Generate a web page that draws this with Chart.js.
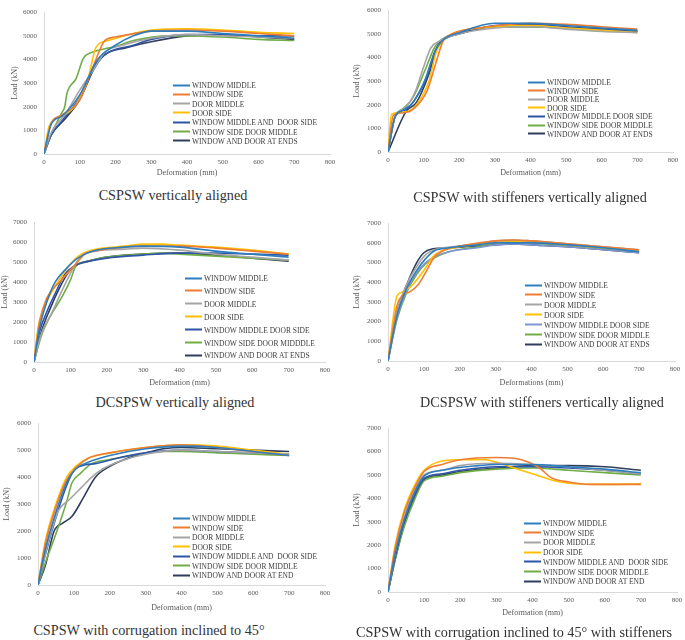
<!DOCTYPE html>
<html>
<head>
<meta charset="utf-8">
<script src="https://cdn.jsdelivr.net/npm/chart.js@4.4.1/dist/chart.umd.min.js"></script>
<style>
  body { margin: 0; background: #fff; width: 685px; height: 640px; position: relative; overflow: hidden;
         font-family: "Liberation Serif", "Times New Roman", serif; }
  canvas { position: absolute; }
  .caption { position: absolute; font-size: 14.2px; color: #333; white-space: nowrap; transform: translate(-50%, -50%); }
  .legend { position: absolute; font-size: 7.5px; color: #404040; }
  .legend .row { position: absolute; left: 0; white-space: pre; display: flex; align-items: center; transform: translateY(-50%); }
  .legend .swatch { display: inline-block; width: 17px; height: 2px; margin-right: 2px; }
</style>
</head>
<body>
<script>
// legend order: window middle, window side, door middle, door side,
// window middle + door side, window side + door middle, window and door at ends
const seriesColors = ['#2E7EBF', '#ED7D31', '#A5A5A5', '#FFC000', '#2F55A8', '#70AD47', '#2F3E5C'];

const namesAligned = ['WINDOW MIDDLE', 'WINDOW SIDE', 'DOOR MIDDLE', 'DOOR SIDE',
  'WINDOW MIDDLE AND  DOOR SIDE', 'WINDOW SIDE DOOR MIDDLE', 'WINDOW AND DOOR AT ENDS'];
const namesStiff = ['WINDOW MIDDLE', 'WINDOW SIDE', 'DOOR MIDDLE', 'DOOR SIDE',
  'WINDOW MIDDLE DOOR SIDE', 'WINDOW SIDE DOOR MIDDLE', 'WINDOW AND DOOR AT ENDS'];
const namesDouble = ['WINDOW MIDDLE', 'WINDOW SIDE', 'DOOR MIDDLE', 'DOOR SIDE',
  'WINDOW MIDDLE DOOR SIDE', 'WINDOW SIDE DOOR MIDDDLE', 'WINDOW AND DOOR AT ENDS'];
const namesInclined = ['WINDOW MIDDLE', 'WINDOW SIDE', 'DOOR MIDDLE', 'DOOR SIDE',
  'WINDOW MIDDLE AND  DOOR SIDE', 'WINDOW SIDE DOOR MIDDLE', 'WINDOW AND DOOR AT END'];

const xTicksMax = 800;
const loadStep = 1000;

// [deformation mm, load kN]
const cspswVertical = [
  [[0,0],[20,1250],[50,1600],[100,2500],[150,4000],[200,4600],[250,5000],[300,5200],[400,5200],[500,5100],[600,5000],[700,4900]],
  [[0,0],[20,1300],[50,1650],[100,2300],[140,3800],[170,4800],[200,4950],[300,5200],[400,5250],[500,5200],[600,5100],[700,5000]],
  [[0,0],[20,900],[60,1700],[100,2700],[140,3600],[170,4300],[220,4600],[300,4900],[400,5050],[500,5000],[600,4950],[700,4900]],
  [[0,0],[15,1200],[50,1600],[90,2100],[125,3300],[145,4500],[180,4800],[250,5100],[300,5250],[400,5300],[500,5250],[600,5150],[700,5100]],
  [[0,0],[20,800],[50,1400],[100,2400],[140,3700],[180,4300],[250,4600],[300,4850],[400,5050],[500,5050],[600,5000],[700,5000]],
  [[0,0],[25,1000],[50,1750],[58,2000],[64,2550],[90,3200],[110,4050],[130,4280],[170,4450],[200,4550],[250,4800],[350,5000],[400,5000],[500,4950],[600,4850],[700,4800]],
  [[0,0],[20,800],[60,1500],[100,2300],[140,3600],[170,4200],[230,4500],[300,4750],[400,5000],[500,5050],[600,4950],[700,4850]]
];

const cspswStiffVertical = [
  [[0,0],[20,1500],[40,1750],[70,2100],[105,3100],[130,4200],[155,4750],[200,5050],[300,5450],[400,5450],[500,5350],[600,5250],[700,5150]],
  [[0,0],[15,1550],[40,1650],[70,1800],[110,2600],[135,3800],[155,4700],[180,5000],[280,5300],[400,5450],[500,5400],[600,5300],[700,5200]],
  [[0,0],[20,1500],[50,1900],[75,2500],[100,3600],[120,4400],[145,4700],[200,5000],[300,5250],[400,5300],[500,5200],[600,5100],[700,5050]],
  [[0,0],[10,1600],[50,1700],[80,2000],[115,3000],[135,4200],[160,4800],[200,5100],[300,5300],[400,5350],[500,5250],[600,5150],[700,5050]],
  [[0,0],[20,1500],[50,1800],[75,2200],[110,3200],[133,4300],[155,4750],[200,5000],[300,5350],[400,5400],[500,5300],[600,5200],[700,5100]],
  [[0,0],[20,1500],[40,1800],[70,2300],[105,3500],[130,4400],[150,4750],[200,5050],[300,5300],[400,5300],[500,5250],[600,5150],[700,5100]],
  [[0,0],[50,1700],[80,2100],[115,3300],[140,4500],[160,4800],[200,5000],[300,5300],[400,5300],[500,5250],[600,5200],[700,5100]]
];

const dcspswVertical = [
  [[0,0],[15,1700],[35,3000],[58,4000],[90,4700],[120,5200],[160,5550],[250,5750],[300,5800],[400,5750],[500,5550],[600,5400],[700,5250]],
  [[0,0],[15,2000],[35,3200],[70,4000],[110,4800],[140,5400],[180,5600],[250,5750],[300,5800],[400,5800],[500,5700],[600,5550],[700,5400]],
  [[0,0],[20,1400],[50,2500],[75,3500],[105,4600],[130,5300],[170,5550],[250,5650],[300,5700],[400,5600],[500,5400],[600,5250],[700,5100]],
  [[0,0],[12,1800],[35,3000],[65,4000],[100,4900],[130,5400],[170,5650],[250,5800],[300,5900],[350,5900],[400,5850],[500,5750],[600,5600],[700,5400]],
  [[0,0],[15,1500],[35,2500],[60,3500],[85,4400],[110,4800],[140,5000],[200,5200],[300,5350],[400,5450],[500,5450],[600,5400],[700,5350]],
  [[0,0],[20,1300],[45,2300],[75,3200],[100,4100],[115,4800],[140,5000],[200,5250],[300,5400],[350,5450],[400,5400],[500,5300],[600,5200],[700,5100]],
  [[0,0],[20,1500],[45,2700],[70,3700],[95,4500],[120,4900],[150,5050],[200,5250],[300,5400],[400,5450],[500,5350],[600,5200],[700,5050]]
];

const dcspswStiffVertical = [
  [[0,0],[25,2300],[50,3600],[80,4600],[105,5200],[130,5600],[170,5750],[250,5900],[300,6000],[400,6000],[500,5900],[600,5750],[700,5550]],
  [[0,0],[25,2800],[45,3400],[60,3500],[85,3900],[105,4500],[130,5300],[160,5650],[220,5900],[300,6100],[350,6150],[400,6100],[500,5950],[600,5800],[700,5650]],
  [[0,0],[25,2500],[50,3800],[80,4800],[105,5400],[130,5650],[180,5800],[250,5950],[300,6100],[350,6150],[400,6100],[500,5950],[600,5800],[700,5650]],
  [[0,0],[25,3300],[40,3500],[70,3900],[100,4600],[125,5300],[150,5600],[200,5800],[300,6000],[400,6050],[500,5900],[600,5750],[700,5600]],
  [[0,0],[25,2200],[50,3500],[80,4500],[105,5000],[130,5300],[170,5550],[250,5750],[300,5900],[350,5950],[400,5900],[500,5800],[600,5650],[700,5500]],
  [[0,0],[25,2100],[50,3400],[80,4400],[105,4950],[130,5250],[170,5550],[250,5800],[300,6000],[350,6050],[400,6000],[500,5850],[600,5700],[700,5550]],
  [[0,0],[25,2500],[55,4000],[80,5000],[100,5500],[125,5700],[170,5750],[250,5850],[300,5900],[350,5950],[400,5900],[500,5800],[600,5650],[700,5500]]
];

const cspswInclined = [
  [[0,0],[20,1300],[50,2700],[80,3800],[105,4300],[140,4550],[200,4800],[300,5050],[400,5150],[500,5100],[600,4950],[700,4800]],
  [[0,0],[20,1500],[50,2900],[80,3900],[110,4400],[140,4700],[200,4900],[300,5100],[400,5200],[500,5100],[600,4950],[700,4800]],
  [[0,0],[25,1400],[55,2700],[90,3200],[120,3600],[150,4000],[180,4300],[230,4600],[300,4850],[400,5000],[500,4950],[600,4900],[700,4850]],
  [[0,0],[20,1600],[50,3000],[80,4000],[105,4400],[140,4700],[200,4900],[300,5100],[400,5200],[500,5150],[600,5000],[700,4850]],
  [[0,0],[20,1100],[50,2500],[80,3700],[100,4250],[130,4450],[160,4500],[220,4700],[300,4900],[400,5000],[500,4950],[600,4900],[700,4850]],
  [[0,0],[20,800],[50,1900],[80,3100],[95,3800],[115,4100],[150,4500],[200,4650],[280,4850],[350,4950],[400,4950],[500,4900],[600,4850],[700,4800]],
  [[0,0],[20,700],[45,2000],[70,2300],[95,2550],[125,3200],[160,4000],[200,4400],[250,4700],[300,4900],[350,5050],[400,5100],[500,5050],[600,5000],[700,4950]]
];

const cspswInclinedStiff = [
  [[0,0],[20,1650],[45,3100],[75,4300],[100,4950],[150,5200],[250,5400],[300,5450],[400,5450],[500,5350],[600,5250],[700,5100]],
  [[0,0],[20,1900],[45,3400],[75,4500],[100,5150],[150,5450],[200,5650],[300,5750],[370,5650],[420,5300],[450,4900],[500,4700],[560,4600],[600,4600],[700,4600]],
  [[0,0],[20,1700],[45,3200],[75,4400],[100,5000],[150,5200],[200,5400],[300,5500],[400,5450],[500,5350],[600,5200],[700,5050]],
  [[0,0],[20,2000],[45,3500],[75,4600],[100,5200],[150,5600],[200,5650],[270,5650],[300,5550],[350,5300],[400,5050],[450,4800],[500,4650],[600,4600],[700,4620]],
  [[0,0],[20,1500],[45,3000],[75,4200],[100,4850],[150,5050],[200,5200],[300,5350],[400,5350],[500,5300],[600,5200],[700,5050]],
  [[0,0],[20,1400],[45,2800],[75,4000],[100,4750],[150,4950],[200,5100],[300,5250],[400,5300],[500,5200],[600,5100],[700,5000]],
  [[0,0],[20,1400],[45,2900],[75,4100],[100,4800],[150,5000],[200,5150],[300,5300],[400,5400],[500,5400],[600,5350],[700,5200]]
];

// page layout of the six panels (plot area edges in px)
const panels = [
  { data: cspswVertical, names: namesAligned, yMax: 6000, x0: 0, L: 44, T: 7, R: 330, B: 154, xTitleY: 173, yTitlePad: 10,
    xTitle: 'Deformation (mm)', caption: 'CSPSW vertically aligned', capX: 173, capY: 195,
    legX: 173, legY: 85, legGap: 9.3 },
  { data: cspswStiffVertical, names: namesStiff, yMax: 6000, x0: 340, L: 388, T: 5, R: 673, B: 152, xTitleY: 173, yTitlePad: 12,
    xTitle: 'Deformation (mm)', caption: 'CSPSW with stiffeners vertically aligned', capX: 530, capY: 197,
    legX: 528, legY: 82, legGap: 8.6 },
  { data: dcspswVertical, names: namesDouble, yMax: 7000, x0: 0, L: 34, T: 217, R: 325, B: 362, xTitleY: 383, yTitlePad: 0,
    xTitle: 'Deformation (mm)', caption: 'DCSPSW vertically aligned', capX: 175, capY: 402,
    legX: 185, legY: 278, legGap: 12.9 },
  { data: dcspswStiffVertical, names: namesStiff, yMax: 7000, x0: 340, L: 388, T: 218, R: 675, B: 361, xTitleY: 383, yTitlePad: 12,
    xTitle: 'Deformations (mm)', caption: 'DCSPSW with stiffeners vertically aligned', capX: 542, capY: 402,
    legX: 525, legY: 285, legGap: 9.9, colorFix: { 4: '#7E95D3' } },
  { data: cspswInclined, names: namesInclined, yMax: 6000, x0: 0, L: 38, T: 418, R: 325, B: 585, xTitleY: 608, yTitlePad: 2,
    xTitle: 'Deformation (mm)', caption: 'CSPSW with corrugation inclined to 45°', capX: 149, capY: 630,
    legX: 173, legY: 518, legGap: 9.55 },
  { data: cspswInclinedStiff, names: namesInclined, yMax: 7000, x0: 340, L: 388, T: 423, R: 677, B: 592, xTitleY: 613, yTitlePad: 12,
    xTitle: 'Deformation (mm)', caption: 'CSPSW with corrugation inclined to 45° with stiffeners', capX: 514, capY: 632,
    legX: 524, legY: 523, legGap: 9.7 }
];

const tickFont = { family: '"Liberation Serif", serif', size: 7 };
const titleFont = { family: '"Liberation Serif", serif', size: 8 };
const textGray = '#595959';

function makePanel(p) {
  const cLeft = p.x0, cTop = p.T - 6, cRight = p.R + 14, cBottom = p.xTitleY + 5;
  const canvas = document.createElement('canvas');
  canvas.width = cRight - cLeft;
  canvas.height = cBottom - cTop;
  canvas.style.left = cLeft + 'px';
  canvas.style.top = cTop + 'px';
  canvas.style.width = canvas.width + 'px';
  canvas.style.height = canvas.height + 'px';
  document.body.appendChild(canvas);

  const colors = seriesColors.map((c, i) => (p.colorFix && p.colorFix[i]) || c);

  new Chart(canvas, {
    type: 'line',
    data: {
      datasets: p.data.map((pts, i) => ({
        label: p.names[i],
        data: pts,
        borderColor: colors[i],
        borderWidth: 1.6,
        pointRadius: 0,
        fill: false,
        tension: 0.4,
        cubicInterpolationMode: 'monotone'
      }))
    },
    options: {
      responsive: false,
      animation: false,
      devicePixelRatio: 1,
      layout: { padding: { top: 6, right: 14, left: 0, bottom: 0 } },
      scales: {
        x: {
          type: 'linear', min: 0, max: xTicksMax,
          ticks: { stepSize: 100, padding: 4, font: tickFont, color: textGray, maxRotation: 0, callback: v => String(v) },
          grid: { display: false, drawTicks: false },
          border: { color: '#d9d9d9' },
          title: { display: true, text: p.xTitle, font: titleFont, color: textGray, padding: 0 },
          afterFit: s => { s.height = cBottom - p.B; }
        },
        y: {
          min: 0, max: p.yMax,
          ticks: { stepSize: loadStep, padding: 7, font: tickFont, color: textGray, callback: v => String(v) },
          grid: { display: false, drawTicks: false },
          border: { color: '#d9d9d9' },
          title: { display: true, text: 'Load (kN)', font: titleFont, color: textGray, padding: { top: p.yTitlePad, bottom: 0 } },
          afterFit: s => { s.width = p.L - cLeft; }
        }
      },
      plugins: { legend: { display: false }, tooltip: { enabled: false } }
    }
  });

  const leg = document.createElement('div');
  leg.className = 'legend';
  leg.style.left = p.legX + 'px';
  leg.style.top = p.legY + 'px';
  p.names.forEach((name, i) => {
    const row = document.createElement('div');
    row.className = 'row';
    row.style.top = (i * p.legGap) + 'px';
    const sw = document.createElement('span');
    sw.className = 'swatch';
    sw.style.background = colors[i];
    row.appendChild(sw);
    row.appendChild(document.createTextNode(name));
    leg.appendChild(row);
  });
  document.body.appendChild(leg);

  const cap = document.createElement('div');
  cap.className = 'caption';
  cap.style.left = p.capX + 'px';
  cap.style.top = p.capY + 'px';
  cap.textContent = p.caption;
  document.body.appendChild(cap);
}

panels.forEach(makePanel);
</script>
</body>
</html>
